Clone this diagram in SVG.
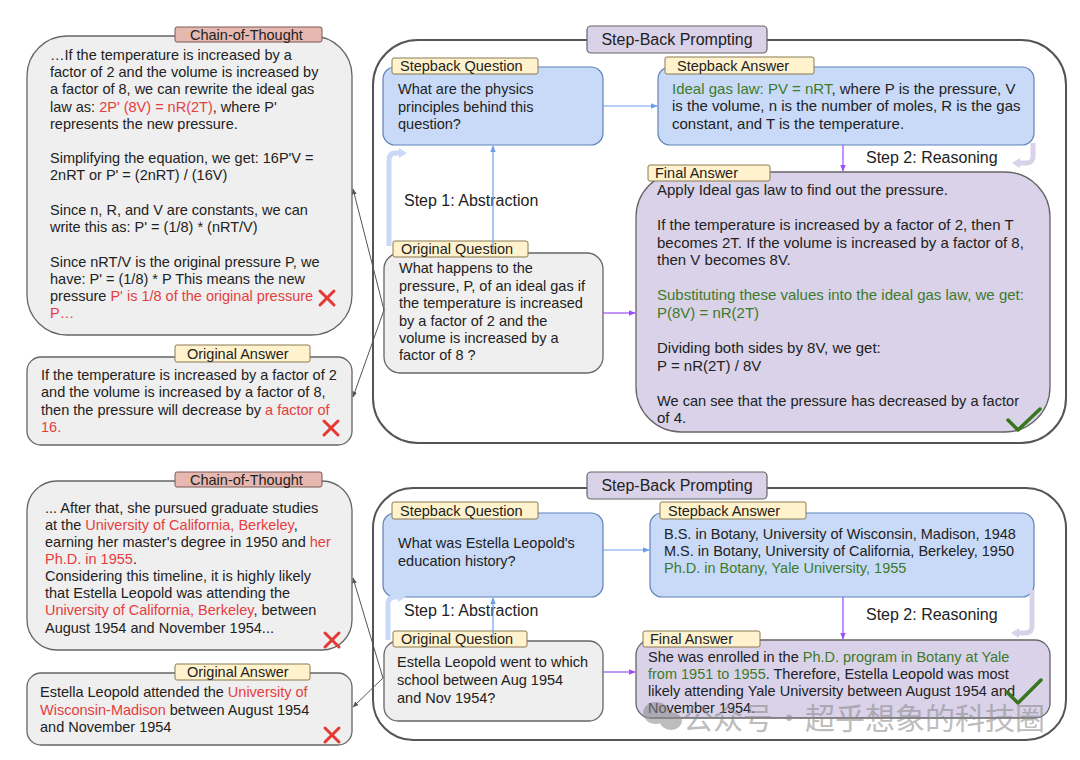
<svg xmlns="http://www.w3.org/2000/svg" width="1080" height="760" viewBox="0 0 1080 760">
<style>
text{font-family:"Liberation Sans",Arial,sans-serif;fill:#222}
.t{font-size:14.5px}
.t15{font-size:15px}
.lab{font-size:16px}
.tabt{font-size:14.5px}
.red{fill:#e53e3e}
.grn{fill:#3d7a2a}
.panel{fill:#fff;stroke:#555;stroke-width:2}
.gbox{fill:#efefef;stroke:#666;stroke-width:1.3}
.bbox{fill:#c9daf8;stroke:#5f82b8;stroke-width:1.2}
.pbox{fill:#d9d2e9;stroke:#666;stroke-width:1.3}
.tabc{fill:#e6b8af;stroke:#7a5a55;stroke-width:1}
.taby{fill:#fff2cc;stroke:#8a7a50;stroke-width:1}
.tabp{fill:#d9d2e9;stroke:#666;stroke-width:1.2}
.cb{stroke:#6d9eeb;stroke-width:1.2;fill:none}
.cp{stroke:#9c4dff;stroke-width:1.2;fill:none}
.cg{stroke:#555;stroke-width:1;fill:none}
.bentb{stroke:#c9daf8;stroke-width:5;fill:none}
.bentp{stroke:#d9d2e9;stroke-width:5;fill:none}
.xm{stroke:#e53935;stroke-width:3;stroke-linecap:round}
.ck{stroke:#38761d;stroke-width:3.5;fill:none;stroke-linecap:round;stroke-linejoin:round}
.wm{font-family:"Noto Sans CJK SC","Noto Sans",sans-serif;font-size:30px;fill:#888}
</style>
<defs>
<marker id="ab" viewBox="0 0 10 10" refX="9" refY="5" markerWidth="6" markerHeight="6" orient="auto"><path d="M0,1 L10,5 L0,9 z" fill="#6d9eeb"/></marker>
<marker id="ap" viewBox="0 0 10 10" refX="9" refY="5" markerWidth="6" markerHeight="6" orient="auto"><path d="M0,1 L10,5 L0,9 z" fill="#9c4dff"/></marker>
<marker id="ag" viewBox="0 0 10 10" refX="9" refY="5" markerWidth="6" markerHeight="6" orient="auto"><path d="M0,1 L10,5 L0,9 z" fill="#555"/></marker>
</defs>
<rect width="1080" height="760" fill="#fff"/>

<!-- ===== TOP EXAMPLE ===== -->
<g id="top-panel">
<rect class="panel" x="373" y="40" width="693" height="403" rx="45"/>
<rect class="tabp" x="587" y="26" width="180" height="27" rx="4"/>
<text class="lab" x="677" y="45" text-anchor="middle">Step-Back Prompting</text>
</g>

<g id="top-cot">
<rect class="gbox" x="27" y="36" width="325" height="299" rx="40"/>
<rect class="tabc" x="175" y="27" width="147" height="15" rx="2"/>
<text class="tabt" x="190" y="40">Chain-of-Thought</text>
<text class="t" x="50" y="60">…If the temperature is increased by a</text>
<text class="t" x="50" y="77">factor of 2 and the volume is increased by</text>
<text class="t" x="50" y="94">a factor of 8, we can rewrite the ideal gas</text>
<text class="t" x="50" y="112">law as: <tspan class="red">2P' (8V) = nR(2T)</tspan>, where P'</text>
<text class="t" x="50" y="129">represents the new pressure.</text>
<text class="t" x="50" y="163">Simplifying the equation, we get: 16P'V =</text>
<text class="t" x="50" y="180">2nRT or P' = (2nRT) / (16V)</text>
<text class="t" x="50" y="215">Since n, R, and V are constants, we can</text>
<text class="t" x="50" y="232">write this as: P' = (1/8) * (nRT/V)</text>
<text class="t" x="50" y="267">Since nRT/V is the original pressure P, we</text>
<text class="t" x="50" y="284">have: P' = (1/8) * P This means the new</text>
<text class="t" x="50" y="301">pressure <tspan class="red">P' is 1/8 of the original pressure</tspan></text>
<text class="t red" x="50" y="318">P…</text>
<line class="xm" x1="320" y1="291" x2="334" y2="305"/><line class="xm" x1="334" y1="291" x2="320" y2="305"/>
</g>

<g id="top-original-answer">
<rect class="gbox" x="27" y="357" width="325" height="88" rx="14"/>
<rect class="taby" x="175" y="345" width="135" height="17" rx="2"/>
<text class="tabt" x="187" y="359">Original Answer</text>
<text class="t" x="41" y="380">If the temperature is increased by a factor of 2</text>
<text class="t" x="41" y="397">and the volume is increased by a factor of 8,</text>
<text class="t" x="41" y="415">then the pressure will decrease by <tspan class="red">a factor of</tspan></text>
<text class="t red" x="41" y="432">16.</text>
<line class="xm" x1="324" y1="421" x2="338" y2="435"/><line class="xm" x1="338" y1="421" x2="324" y2="435"/>
</g>

<g id="top-stepback-question">
<rect class="bbox" x="383" y="67" width="220" height="78" rx="12"/>
<rect class="taby" x="392" y="58" width="146" height="16" rx="2"/>
<text class="tabt" x="400" y="71">Stepback Question</text>
<text class="t" x="398" y="94">What are the physics</text>
<text class="t" x="398" y="112">principles behind this</text>
<text class="t" x="398" y="129">question?</text>
</g>

<g id="top-stepback-answer">
<rect class="bbox" x="658" y="67" width="376" height="78" rx="12"/>
<rect class="taby" x="665" y="57" width="149" height="17" rx="2"/>
<text class="tabt" x="677" y="71">Stepback Answer</text>
<text class="t15" x="672" y="94"><tspan class="grn">Ideal gas law: PV = nRT</tspan>, where P is the pressure, V</text>
<text class="t15" x="672" y="111">is the volume, n is the number of moles, R is the gas</text>
<text class="t15" x="672" y="129">constant, and T is the temperature.</text>
</g>

<g id="top-original-question">
<rect class="gbox" x="384" y="253" width="219" height="120" rx="16"/>
<rect class="taby" x="393" y="241" width="135" height="16" rx="2"/>
<text class="tabt" x="401" y="254">Original Question</text>
<text class="t" x="399" y="273">What happens to the</text>
<text class="t" x="399" y="291">pressure, P, of an ideal gas if</text>
<text class="t" x="399" y="308">the temperature is increased</text>
<text class="t" x="399" y="326">by a factor of 2 and the</text>
<text class="t" x="399" y="343">volume is increased by a</text>
<text class="t" x="399" y="360">factor of 8 ?</text>
</g>

<g id="top-final-answer">
<rect class="pbox" x="636" y="172" width="414" height="260" rx="45"/>
<rect class="taby" x="648" y="165" width="122" height="16" rx="2"/>
<text class="tabt" x="655" y="178">Final Answer</text>
<text class="t15" x="657" y="195">Apply Ideal gas law to find out the pressure.</text>
<text class="t15" x="657" y="230">If the temperature is increased by a factor of 2, then T</text>
<text class="t15" x="657" y="248">becomes 2T. If the volume is increased by a factor of 8,</text>
<text class="t15" x="657" y="265">then V becomes 8V.</text>
<text class="t15 grn" x="657" y="300">Substituting these values into the ideal gas law, we get:</text>
<text class="t15 grn" x="657" y="318">P(8V) = nR(2T)</text>
<text class="t15" x="657" y="353">Dividing both sides by 8V, we get:</text>
<text class="t15" x="657" y="371">P = nR(2T) / 8V</text>
<text class="t15" x="657" y="406" textLength="362" lengthAdjust="spacingAndGlyphs">We can see that the pressure has decreased by a factor</text>
<text class="t15" x="657" y="423">of 4.</text>
<polyline class="ck" points="1008,420 1018,430 1040,409"/>
</g>

<g id="top-labels">
<text class="lab" x="404" y="206">Step 1: Abstraction</text>
<text class="lab" x="866" y="163">Step 2: Reasoning</text>
</g>

<!-- ===== BOTTOM EXAMPLE ===== -->
<g id="bottom-panel">
<rect class="panel" x="373" y="488" width="693" height="252" rx="40"/>
<rect class="tabp" x="587" y="472" width="180" height="27" rx="4"/>
<text class="lab" x="677" y="491" text-anchor="middle">Step-Back Prompting</text>
</g>

<g id="bottom-cot">
<rect class="gbox" x="27" y="481" width="325" height="169" rx="30"/>
<rect class="tabc" x="175" y="472" width="147" height="15" rx="2"/>
<text class="tabt" x="190" y="485">Chain-of-Thought</text>
<text class="t" x="45" y="513">... After that, she pursued graduate studies</text>
<text class="t" x="45" y="530">at the <tspan class="red">University of California, Berkeley</tspan>,</text>
<text class="t" x="45" y="547">earning her master's degree in 1950 and <tspan class="red">her</tspan></text>
<text class="t" x="45" y="564"><tspan class="red">Ph.D. in 1955</tspan>.</text>
<text class="t" x="45" y="581">Considering this timeline, it is highly likely</text>
<text class="t" x="45" y="598">that Estella Leopold was attending the</text>
<text class="t" x="45" y="615"><tspan class="red">University of California, Berkeley</tspan>, between</text>
<text class="t" x="45" y="633">August 1954 and November 1954...</text>
<line class="xm" x1="325" y1="633" x2="339" y2="647"/><line class="xm" x1="339" y1="633" x2="325" y2="647"/>
</g>

<g id="bottom-original-answer">
<rect class="gbox" x="27" y="673" width="325" height="72" rx="14"/>
<rect class="taby" x="175" y="664" width="135" height="16" rx="2"/>
<text class="tabt" x="187" y="677">Original Answer</text>
<text class="t" x="40" y="697">Estella Leopold attended the <tspan class="red">University of</tspan></text>
<text class="t" x="40" y="715"><tspan class="red">Wisconsin-Madison</tspan> between August 1954</text>
<text class="t" x="40" y="732">and November 1954</text>
<line class="xm" x1="325" y1="728" x2="339" y2="742"/><line class="xm" x1="339" y1="728" x2="325" y2="742"/>
</g>

<g id="bottom-stepback-question">
<rect class="bbox" x="383" y="513" width="220" height="84" rx="12"/>
<rect class="taby" x="392" y="502" width="146" height="17" rx="2"/>
<text class="tabt" x="400" y="516">Stepback Question</text>
<text class="t" x="398" y="548">What was Estella Leopold's</text>
<text class="t" x="398" y="566">education history?</text>
</g>

<g id="bottom-stepback-answer">
<rect class="bbox" x="650" y="513" width="384" height="84" rx="12"/>
<rect class="taby" x="660" y="502" width="146" height="17" rx="2"/>
<text class="tabt" x="668" y="516">Stepback Answer</text>
<text class="t" x="664" y="539">B.S. in Botany, University of Wisconsin, Madison, 1948</text>
<text class="t" x="664" y="556">M.S. in Botany, University of California, Berkeley, 1950</text>
<text class="t grn" x="664" y="573">Ph.D. in Botany, Yale University, 1955</text>
</g>

<g id="bottom-original-question">
<rect class="gbox" x="384" y="641" width="219" height="80" rx="14"/>
<rect class="taby" x="393" y="631" width="134" height="16" rx="2"/>
<text class="tabt" x="401" y="644">Original Question</text>
<text class="t" x="397" y="667">Estella Leopold went to which</text>
<text class="t" x="397" y="685">school between Aug 1954</text>
<text class="t" x="397" y="703">and Nov 1954?</text>
</g>

<g id="bottom-final-answer">
<rect class="pbox" x="636" y="640" width="414" height="78" rx="15"/>
<rect class="taby" x="643" y="631" width="117" height="16" rx="2"/>
<text class="tabt" x="650" y="644">Final Answer</text>
<text class="t" x="648" y="662">She was enrolled in the <tspan class="grn">Ph.D. program in Botany at Yale</tspan></text>
<text class="t" x="648" y="679"><tspan class="grn">from 1951 to 1955</tspan>. Therefore, Estella Leopold was most</text>
<text class="t" x="648" y="696">likely attending Yale University between August 1954 and</text>
<text class="t" x="648" y="713">November 1954.</text>
<polyline class="ck" points="1007,692 1018,703 1041,680"/>
</g>

<g id="bottom-labels">
<text class="lab" x="404" y="616">Step 1: Abstraction</text>
<text class="lab" x="866" y="620">Step 2: Reasoning</text>
</g>

<g id="connectors">
<line class="cb" x1="603" y1="106" x2="657" y2="106" marker-end="url(#ab)"/>
<line class="cb" x1="493" y1="253" x2="493" y2="146" marker-end="url(#ab)"/>
<line class="cp" x1="603" y1="313" x2="635" y2="313" marker-end="url(#ap)"/>
<line class="cp" x1="843" y1="145" x2="843" y2="171" marker-end="url(#ap)"/>
<line class="cg" x1="384" y1="310" x2="353" y2="189" marker-end="url(#ag)"/>
<line class="cg" x1="384" y1="310" x2="353" y2="397" marker-end="url(#ag)"/>
<path class="bentb" d="M389,246 V160 Q389,153 396,153 H399"/>
<polygon points="399,148 407,153 399,158" fill="#c9daf8"/>
<path class="bentp" d="M1033,143 V156 Q1033,163 1026,163 H1020"/>
<polygon points="1020,158 1012,163 1020,168" fill="#d9d2e9"/>

<line class="cb" x1="603" y1="550" x2="649" y2="550" marker-end="url(#ab)"/>
<line class="cb" x1="493" y1="641" x2="493" y2="598" marker-end="url(#ab)"/>
<line class="cp" x1="603" y1="672" x2="635" y2="672" marker-end="url(#ap)"/>
<line class="cp" x1="843" y1="597" x2="843" y2="639" marker-end="url(#ap)"/>
<line class="cg" x1="383" y1="678" x2="353" y2="578" marker-end="url(#ag)"/>
<line class="cg" x1="383" y1="678" x2="353" y2="707" marker-end="url(#ag)"/>
<path class="bentb" d="M388,640 V604 Q388,597 395,597 H398"/>
<polygon points="398,592 406,597 398,602" fill="#c9daf8"/>
<path class="bentp" d="M1032,590 V626 Q1032,633 1025,633 H1019"/>
<polygon points="1019,628 1011,633 1019,638" fill="#d9d2e9"/>
</g>

<g id="watermark" opacity="0.55">
<ellipse cx="656" cy="713" rx="13" ry="11" fill="#888"/>
<ellipse cx="671" cy="721" rx="11" ry="9" fill="#888"/>
<text class="wm" x="683" y="729">公众号</text>
<text class="wm" x="789" y="729" text-anchor="middle">·</text>
<text class="wm" x="805" y="729">超乎想象的科技圈</text>
</g>
</svg>
